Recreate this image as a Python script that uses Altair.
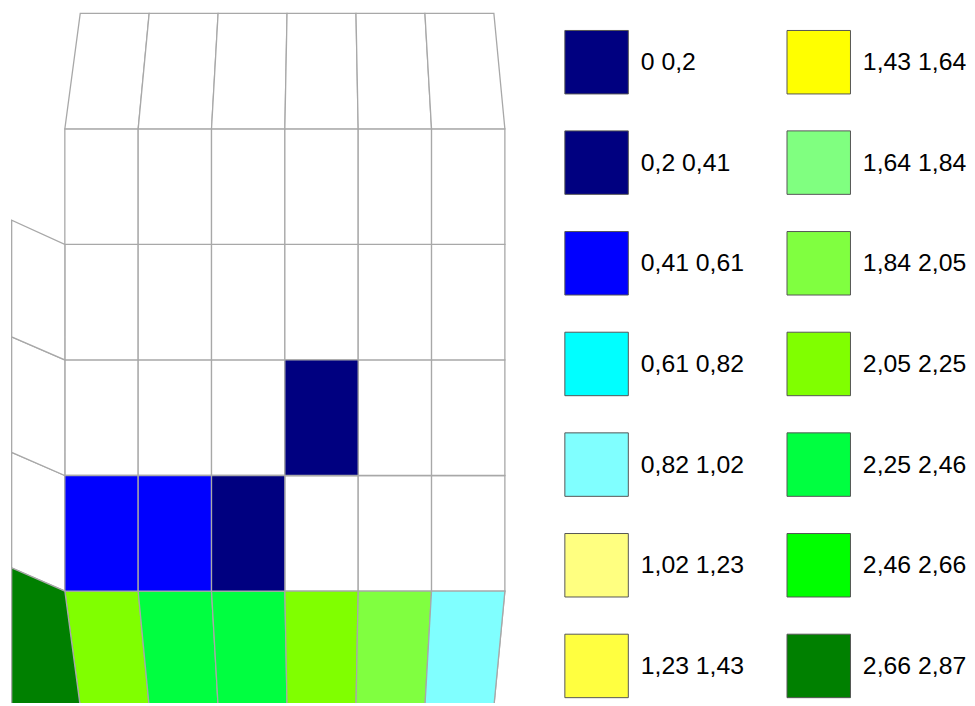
import altair as alt
import pandas as pd

# ---------------- data ----------------
LABELS = ["0 0,2", "0,2 0,41", "0,41 0,61", "0,61 0,82", "0,82 1,02",
          "1,02 1,23", "1,23 1,43", "1,43 1,64", "1,64 1,84", "1,84 2,05",
          "2,05 2,25", "2,25 2,46", "2,46 2,66", "2,66 2,87"]
COLORS = ["#000080", "#000080", "#0000FF", "#00FFFF", "#80FFFF",
          "#FFFF80", "#FFFF40", "#FFFF00", "#80FF80", "#80FF40",
          "#80FF00", "#00FF40", "#00FF00", "#008000"]

# mesh nodes (model units)
X_INNER = [0, 1, 2, 3, 4, 5, 6]
X_EDGE = [0.21, 1.15, 2.09, 3.03, 3.97, 4.91, 5.85]
Y_LEVELS = [-1, 0, 1, 2, 3, 4, 5]
LEFT_X_OUT = -0.725
LEFT_OUTER_Y = [0.2, 1.2, 2.2, 3.21]
LEFT_INNER_Y = [0, 1, 2, 3]

# class of each main cell, bottom row first (None = no value)
CELL_CLASS = [
    ["2,05 2,25", "2,25 2,46", "2,25 2,46", "2,05 2,25", "1,84 2,05", "0,82 1,02"],
    ["0,41 0,61", "0,41 0,61", "0,2 0,41", None, None, None],
    [None, None, None, "0,2 0,41", None, None],
    [None, None, None, None, None, None],
    [None, None, None, None, None, None],
    [None, None, None, None, None, None],
]
# left column cells, bottom first
LEFT_CLASS = ["2,66 2,87", None, None, None]

# ---------------- build tables ----------------
NODES = [X_EDGE] + [X_INNER] * (len(Y_LEVELS) - 2) + [X_EDGE]
main_rows = []
for r in range(len(Y_LEVELS) - 1):
    for c in range(len(X_INNER) - 1):
        cid = f"m{r}_{c}"
        cls = CELL_CLASS[r][c]
        for lev in (r, r + 1):
            main_rows.append(dict(cell=cid, y=Y_LEVELS[lev], xl=NODES[lev][c],
                                  xr=NODES[lev][c + 1], cls=cls))
df_main = pd.DataFrame(main_rows)

left_rows = []
BASE = -1.3
left_rows += [
    dict(cell="l0", x=LEFT_X_OUT, y=BASE, y2=LEFT_OUTER_Y[0], cls=LEFT_CLASS[0]),
    dict(cell="l0", x=X_INNER[0], y=BASE, y2=LEFT_INNER_Y[0], cls=LEFT_CLASS[0]),
    dict(cell="l0", x=X_EDGE[0], y=BASE, y2=Y_LEVELS[0], cls=LEFT_CLASS[0]),
]
for i in range(1, len(LEFT_OUTER_Y)):
    cid = f"l{i}"
    cls = LEFT_CLASS[i]
    left_rows.append(dict(cell=cid, x=LEFT_X_OUT, y=LEFT_OUTER_Y[i - 1],
                          y2=LEFT_OUTER_Y[i], cls=cls))
    left_rows.append(dict(cell=cid, x=X_INNER[0], y=LEFT_INNER_Y[i - 1],
                          y2=LEFT_INNER_Y[i], cls=cls))
df_left = pd.DataFrame(left_rows)

# ---------------- chart ----------------
XDOM = [-0.775, 12.193]
YDOM = [-0.970, 5.021]
GRID = "#a8a8a8"
FONT = "Liberation Sans, Arial, sans-serif"

xs = alt.Scale(domain=XDOM, nice=False, zero=False)
ys = alt.Scale(domain=YDOM, nice=False, zero=False)

color = alt.Color(
    "cls:N",
    scale=alt.Scale(domain=LABELS, range=COLORS),
    title=None,
    legend=alt.Legend(
        orient="none", legendX=561, legendY=19, columns=2,
        symbolType="square", symbolSize=4096, symbolStrokeColor="#555555",
        symbolStrokeWidth=1, symbolOpacity=1,
        labelFont=FONT, labelFontSize=25, labelColor="black",
        labelOffset=12, labelLimit=400, rowPadding=32.5, columnPadding=40,
    ),
)

main_base = alt.Chart(df_main).encode(
    y=alt.Y("y:Q", scale=ys, axis=None),
    x=alt.X("xl:Q", scale=xs, axis=None),
    x2="xr:Q",
    detail="cell:N",
)
left_base = alt.Chart(df_left).encode(
    x=alt.X("x:Q", scale=xs, axis=None),
    y=alt.Y("y:Q", scale=ys, axis=None),
    y2="y2:Q",
    detail="cell:N",
)

white_main = main_base.mark_area(orient="horizontal", fill="white", stroke=GRID,
                                 strokeWidth=1.3, opacity=1, clip=True)
white_left = left_base.mark_area(orient="vertical", fill="white", stroke=GRID,
                                 strokeWidth=1.3, opacity=1, clip=True)
col_main = main_base.mark_area(orient="horizontal", stroke=GRID, strokeWidth=1.3,
                               opacity=1, clip=True).encode(color=color).transform_filter(
    "isValid(datum.cls)")
col_left = left_base.mark_area(orient="vertical", stroke=GRID, strokeWidth=1.3,
                               opacity=1, clip=True).encode(color=color).transform_filter(
    "isValid(datum.cls)")

chart = alt.layer(white_main, white_left, col_main, col_left).properties(
    width=959, height=698, padding=0, background="white"
).configure_view(strokeWidth=0)

chart.save("out.html", embed_options={"renderer": "svg", "actions": False})
